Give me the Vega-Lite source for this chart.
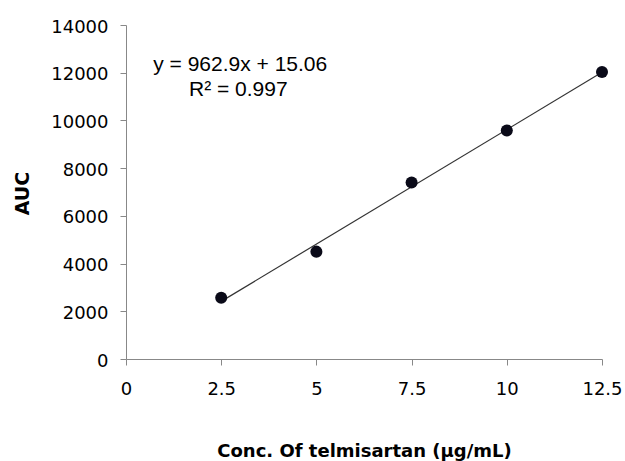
{
  "$schema": "https://vega.github.io/schema/vega-lite/v6.json",
  "width": 476,
  "height": 334,
  "autosize": {"type": "none"},
  "padding": {"left": 126, "top": 25, "right": 23, "bottom": 102},
  "background": "white",
  "config": {
    "view": {"stroke": null},
    "font": "DejaVu Sans",
    "axis": {
      "grid": false,
      "domainColor": "#888888",
      "tickColor": "#888888",
      "tickSize": 6,
      "labelColor": "#000000",
      "labelFont": "DejaVu Sans",
      "labelFontSize": 18,
      "titleFont": "DejaVu Sans",
      "titleFontWeight": "bold",
      "titleFontSize": 18,
      "titleColor": "#000000"
    }
  },
  "data": {
    "values": [
      {"conc": 2.5, "AUC": 2570},
      {"conc": 5, "AUC": 4500},
      {"conc": 7.5, "AUC": 7400},
      {"conc": 10, "AUC": 9580},
      {"conc": 12.5, "AUC": 12030}
    ]
  },
  "encoding": {
    "x": {
      "field": "conc",
      "type": "quantitative",
      "scale": {"domain": [0, 12.5], "nice": false, "zero": false},
      "axis": {
        "title": "Conc. Of telmisartan (µg/mL)",
        "values": [0, 2.5, 5, 7.5, 10, 12.5],
        "format": ".1~f",
        "labelPadding": 15,
        "labelFlush": false,
        "titleBaseline": "alphabetic",
        "titleY": 97,
        "titleX": 238
      }
    },
    "y": {
      "field": "AUC",
      "type": "quantitative",
      "scale": {"domain": [0, 14000], "nice": false},
      "axis": {
        "title": "AUC",
        "values": [0, 2000, 4000, 6000, 8000, 10000, 12000, 14000],
        "format": "d",
        "labelPadding": 12,
        "labelOffset": 2,
        "titleFontSize": 19,
        "titleBaseline": "alphabetic",
        "titleAngle": 270,
        "titleX": -98,
        "titleY": 168
      }
    }
  },
  "layer": [
    {
      "transform": [{"regression": "AUC", "on": "conc"}],
      "mark": {"type": "line", "color": "#333333", "strokeWidth": 1.2}
    },
    {
      "mark": {"type": "point", "filled": true, "color": "#0a0a18", "opacity": 1, "size": 145}
    },
    {
      "transform": [{"filter": "datum.conc === 12.5"}],
      "mark": {"type": "text", "text": "y = 962.9x + 15.06", "font": "Liberation Sans", "fontSize": 21, "baseline": "middle", "align": "center", "color": "#000000"},
      "encoding": {"x": {"datum": 3}, "y": {"datum": 12320}}
    },
    {
      "transform": [{"filter": "datum.conc === 12.5"}],
      "mark": {"type": "text", "text": "R² = 0.997", "font": "Liberation Sans", "fontSize": 21, "baseline": "middle", "align": "center", "color": "#000000"},
      "encoding": {"x": {"datum": 2.95}, "y": {"datum": 11280}}
    }
  ]
}
